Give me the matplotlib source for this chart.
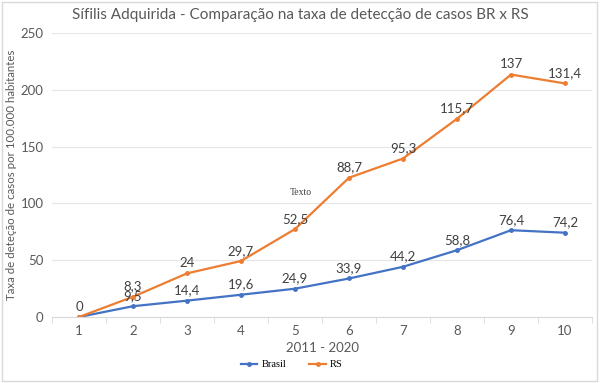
import numpy as np
import matplotlib.pyplot as plt
from matplotlib.patches import Rectangle

plt.rcParams['font.family'] = ['Lato', 'DejaVu Sans']

anos = [1, 2, 3, 4, 5, 6, 7, 8, 9, 10]
brasil = [0, 9.5, 14.4, 19.6, 24.9, 33.9, 44.2, 58.8, 76.4, 74.2]
rs = [0, 8.3, 24, 29.7, 52.5, 88.7, 95.3, 115.7, 137, 131.4]
y_ticks = [0, 50, 100, 150, 200, 250]

# the original is a stacked line chart: RS is drawn on top of Brasil
rs_stacked = np.add(brasil, rs)

fig = plt.figure(figsize=(6, 3.83), dpi=100)
ax = fig.add_axes([52 / 600, 66 / 383, 540 / 600, 284 / 383])

x = np.arange(len(anos))
ax.plot(x, brasil, color='#4472C4', lw=1.6, marker='o', ms=2.5, label='Brasil')
ax.plot(x, rs_stacked, color='#ED7D31', lw=1.6, marker='o', ms=2.5, label='RS')

def fmt(v):
    return (f'{v:g}').replace('.', ',')

for i, v in enumerate(brasil):
    if i == 0:
        continue
    ax.annotate(fmt(v), (x[i], brasil[i]), xytext=(0, 3), textcoords='offset points',
                ha='center', va='bottom', fontsize=9.5, color='#404040')
for i, v in enumerate(rs):
    ax.annotate(fmt(v), (x[i], rs_stacked[i]), xytext=(0, 3), textcoords='offset points',
                ha='center', va='bottom', fontsize=9.5, color='#404040')

ax.text(4.1, 110, 'Texto', fontsize=7, family='Liberation Serif', color='#404040',
        ha='center', va='center')

ax.set_xlim(-0.5, len(anos) - 0.5)
ax.set_ylim(0, 250)
ax.set_yticks(y_ticks)
ax.set_xticks(x)
ax.set_xticklabels([str(a) for a in anos])
ax.set_xticks(np.arange(-0.5, len(anos), 1), minor=True)
ax.tick_params(axis='both', which='major', length=0, labelsize=9.5, labelcolor='#595959', pad=6)
ax.tick_params(axis='x', which='minor', length=4, color='#D9D9D9', bottom=True)
ax.grid(axis='y', color='#E6E6E6', lw=0.8)
ax.set_axisbelow(True)
for s in ['top', 'right', 'left']:
    ax.spines[s].set_visible(False)
ax.spines['bottom'].set_color('#D9D9D9')

ax.set_xlabel('2011 - 2020', fontsize=9.5, color='#595959', labelpad=3)
ax.set_ylabel('Taxa de deteção de casos por 100.000 habitantes', fontsize=8.3,
              color='#595959')
ax.yaxis.set_label_coords((17 - 52) / 540, 0.5)
fig.text(0.5, 0.96, 'Sífilis Adquirida - Comparação na taxa de detecção de casos BR x RS',
         ha='center', va='center', fontsize=11, color='#595959')

leg = ax.legend(loc='center', bbox_to_anchor=(0.444, -0.168), ncol=2, frameon=False,
                prop={'family': 'Liberation Serif', 'size': 7.5}, handlelength=1.6,
                columnspacing=2.2, handletextpad=0.4)

fig.patches.append(Rectangle((0.003, 0.005), 0.992, 0.99, transform=fig.transFigure,
                             fill=False, edgecolor='#D9D9D9', lw=1))

plt.savefig('out.png', dpi=100)
